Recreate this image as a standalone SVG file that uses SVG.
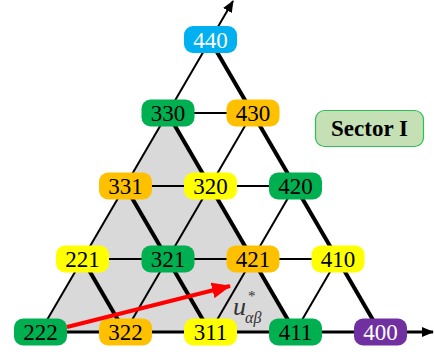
<svg xmlns="http://www.w3.org/2000/svg" width="435" height="356" viewBox="0 0 435 356">
<style>
.n rect{rx:9;ry:9}
.t{font-family:'Liberation Serif','DejaVu Serif',serif}
.n text{font-size:23px;text-anchor:middle;fill:#000}
.thin{stroke:#000;stroke-width:2;fill:none}
.thick{stroke:#000;stroke-width:4;fill:none}
.base{stroke:#000;stroke-width:3;fill:none}
.g rect{fill:#00b050}.o rect{fill:#ffc000}.y rect{fill:#ffff00}
.c rect{fill:#00b0f0}.p rect{fill:#7030a0}
.c text,.p text{fill:#fff}
</style>
<defs>
<marker id="ab" markerUnits="userSpaceOnUse" markerWidth="12" markerHeight="10" refX="11" refY="5" orient="auto">
<path d="M0,0 L12,5 L0,10 z" fill="#000"/>
</marker>
<marker id="ar" markerUnits="userSpaceOnUse" markerWidth="20" markerHeight="16" refX="18" refY="8" orient="auto">
<path d="M0,0 L19,8 L0,16 z" fill="#ff0000"/>
</marker>
</defs>
<polygon points="40,332 167.5,113 295,332" fill="#d9d9d9"/>
<g id="connectors">
<line class="thin" x1="40" y1="332" x2="233" y2="1" marker-end="url(#ab)"/>
<line class="thin" x1="125" y1="332" x2="252.5" y2="113"/>
<line class="thin" x1="210" y1="332" x2="295" y2="186"/>
<line class="thin" x1="295" y1="332" x2="337.5" y2="259"/>
<line class="thin" x1="167.5" y1="113" x2="252.5" y2="113"/>
<line class="thin" x1="125" y1="186" x2="295" y2="186"/>
<line class="thin" x1="82.5" y1="259" x2="337.5" y2="259"/>
<line class="thick" x1="210" y1="40" x2="380" y2="332"/>
<line class="thick" x1="167.5" y1="113" x2="295" y2="332"/>
<line class="thick" x1="125" y1="186" x2="210" y2="332"/>
<line class="thick" x1="82.5" y1="259" x2="125" y2="332"/>
<line class="base" x1="40" y1="332" x2="433" y2="332" marker-end="url(#ab)"/>
</g>
<g id="n440" class="n c"><rect x="184" y="26" width="53" height="27"/><text class="t" x="210.5" y="47.5">440</text></g>
<g id="n330" class="n g"><rect x="141.5" y="99.5" width="53" height="27"/><text class="t" x="168" y="121">330</text></g>
<g id="n430" class="n o"><rect x="226.5" y="99.5" width="53" height="27"/><text class="t" x="253" y="121">430</text></g>
<g id="n331" class="n o"><rect x="99" y="172.5" width="53" height="27"/><text class="t" x="125.5" y="194">331</text></g>
<g id="n320" class="n y"><rect x="184" y="172.5" width="53" height="27"/><text class="t" x="210.5" y="194">320</text></g>
<g id="n420" class="n g"><rect x="269" y="172.5" width="53" height="27"/><text class="t" x="295.5" y="194">420</text></g>
<g id="n221" class="n y"><rect x="56" y="245.5" width="53" height="27"/><text class="t" x="82.5" y="267">221</text></g>
<g id="n321" class="n g"><rect x="141.5" y="245.5" width="53" height="27"/><text class="t" x="168" y="267">321</text></g>
<g id="n421" class="n o"><rect x="226.5" y="245.5" width="53" height="27"/><text class="t" x="253" y="267">421</text></g>
<g id="n410" class="n y"><rect x="311.5" y="245.5" width="53" height="27"/><text class="t" x="338" y="267">410</text></g>
<g id="n222" class="n g"><rect x="14" y="318.5" width="53" height="27"/><text class="t" x="40.5" y="340">222</text></g>
<g id="n322" class="n o"><rect x="99" y="318.5" width="53" height="27"/><text class="t" x="125.5" y="340">322</text></g>
<g id="n311" class="n y"><rect x="184" y="318.5" width="53" height="27"/><text class="t" x="210.5" y="340">311</text></g>
<g id="n411" class="n g"><rect x="269" y="318.5" width="53" height="27"/><text class="t" x="295.5" y="340">411</text></g>
<g id="n400" class="n p"><rect x="354" y="318.5" width="53" height="27"/><text class="t" x="380.5" y="340">400</text></g>
<line x1="67" y1="327" x2="230" y2="286" stroke="#ff0000" stroke-width="4" marker-end="url(#ar)"/>
<g id="label" fill="#333">
<text class="t" x="233" y="315" font-style="italic" font-size="26">u</text>
<text class="t" x="248" y="301" font-size="15">*</text>
<text class="t" x="245" y="323" font-style="italic" font-size="16">αβ</text>
</g>
<g id="sector">
<rect x="315.5" y="110.5" width="108" height="36" rx="9" fill="#c5e0b4" stroke="#2ebd59" stroke-width="1.2"/>
<text class="t" x="369.5" y="136" font-weight="bold" font-size="23" text-anchor="middle">Sector I</text>
</g>
</svg>
